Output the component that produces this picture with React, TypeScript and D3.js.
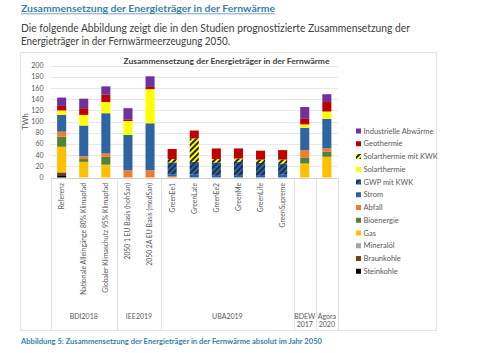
import { useEffect, useRef } from 'react';
import * as d3 from 'd3';

// Studies (inner category labels), BDEW and Agora have no inner label
const categories = [
  'Referenz',
  'Nationale Alleingänge 80% Klimapfad',
  'Globaler Klimaschutz 95% Klimapfad',
  '2050 1 EU Basis (hohSan)',
  '2050 2A EU Basis (modSan)',
  'GreenEe1',
  'GreenLate',
  'GreenEe2',
  'GreenMe',
  'GreenLife',
  'GreenSupreme',
  '',
  '',
];

const groupLabels = [['BDI2018'], ['IEE2019'], ['UBA2019'], ['BDEW', '2017'], ['Agora', '2020']];
const groupSizes = [3, 2, 6, 1, 1];

const yTicks = [0, 20, 40, 60, 80, 100, 120, 140, 160, 180, 200];

// TWh per category, stacked bottom -> top
const steinkohle = [4, 0, 0, 0, 0, 0, 0, 0, 0, 0, 0, 0, 0];
const braunkohle = [5, 0, 0, 0, 0, 0, 0, 0, 0, 0, 0, 0, 0];
const mineraloel = [1, 0, 0, 0, 0, 0, 0, 0, 0, 0, 0, 0, 0];
const gas = [45, 28, 23, 0, 0, 0, 0, 0, 0, 0, 0, 25, 37];
const bioenergie = [18, 5, 14, 0, 0, 0, 0, 0, 0, 0, 0, 10, 9];
const abfall = [9, 5, 6, 13, 13, 2, 0, 0, 0, 0, 0, 14, 6];
const strom = [30, 55, 72, 63, 84, 3, 5, 3, 3, 3, 5, 40, 53];
const gwpKwk = [0, 0, 0, 0, 0, 22, 23, 24, 25, 23, 20, 0, 0];
const solarthermie = [8, 19, 20, 25, 61, 0, 0, 0, 0, 0, 0, 6, 13];
const solarthermieKwk = [0, 0, 0, 0, 0, 6, 42, 6, 6, 6, 7, 0, 0];
const geothermie = [8, 12, 13, 3, 4, 18, 14, 19, 18, 16, 17, 11, 17];
const abwaerme = [15, 17, 15, 20, 19, 0, 0, 0, 0, 0, 0, 20, 14];

type Series = { name: string; values: number[]; fill: string };

const series: Series[] = [
  { name: 'Steinkohle', values: steinkohle, fill: '#000000' },
  { name: 'Braunkohle', values: braunkohle, fill: '#7b3f12' },
  { name: 'Mineralöl', values: mineraloel, fill: '#a5a5a5' },
  { name: 'Gas', values: gas, fill: '#ffc000' },
  { name: 'Bioenergie', values: bioenergie, fill: '#548235' },
  { name: 'Abfall', values: abfall, fill: '#ed7d31' },
  { name: 'Strom', values: strom, fill: '#2e64a2' },
  { name: 'GWP mit KWK', values: gwpKwk, fill: 'url(#hatchBlue)' },
  { name: 'Solarthermie', values: solarthermie, fill: '#ffff00' },
  { name: 'Solarthermie mit KWK', values: solarthermieKwk, fill: 'url(#hatchYellow)' },
  { name: 'Geothermie', values: geothermie, fill: '#c00000' },
  { name: 'Industrielle Abwärme', values: abwaerme, fill: '#7030a0' },
];

const FONT = 'Lato, "Open Sans", sans-serif';

const App = () => {
  const svgRef = useRef<SVGSVGElement>(null);

  useEffect(() => {
    if (!svgRef.current) return;
    const width = 500;
    const height = 353;

    const root = d3.select(svgRef.current);
    root.selectAll('*').remove();
    root.attr('width', width).attr('height', height);

    // hatch patterns
    const defs = root.append('defs');
    const addHatch = (id: string, bg: string, fg: string) => {
      const p = defs.append('pattern')
        .attr('id', id)
        .attr('patternUnits', 'userSpaceOnUse')
        .attr('width', 4)
        .attr('height', 4)
        .attr('patternTransform', 'rotate(45)');
      p.append('rect').attr('width', 4).attr('height', 4).attr('fill', bg);
      p.append('rect').attr('width', 2).attr('height', 4).attr('fill', fg);
    };
    addHatch('hatchBlue', '#2e64a2', '#1a2f52');
    addHatch('hatchYellow', '#ffff00', '#222222');

    root.append('rect').attr('width', width).attr('height', height).attr('fill', '#fff');

    // page text above the chart
    root.append('text')
      .attr('x', 21).attr('y', 12)
      .attr('textLength', 254).attr('lengthAdjust', 'spacingAndGlyphs')
      .style('font-family', FONT).style('font-size', '9.5px').style('font-weight', 'bold')
      .style('fill', '#3a7fa8')
      .text('Zusammensetzung der Energieträger in der Fernwärme');
    root.append('line')
      .attr('x1', 21).attr('x2', 275).attr('y1', 13.8).attr('y2', 13.8)
      .attr('stroke', '#3a7fa8').attr('stroke-width', 0.7);

    root.append('text')
      .attr('x', 21).attr('y', 31.5)
      .attr('textLength', 389).attr('lengthAdjust', 'spacingAndGlyphs')
      .style('font-family', FONT).style('font-size', '10.5px').style('fill', '#404040')
      .text('Die folgende Abbildung zeigt die in den Studien prognostizierte Zusammensetzung der');
    root.append('text')
      .attr('x', 21).attr('y', 45)
      .attr('textLength', 209).attr('lengthAdjust', 'spacingAndGlyphs')
      .style('font-family', FONT).style('font-size', '10.5px').style('fill', '#404040')
      .text('Energieträger in der Fernwärmeerzeugung 2050.');

    // chart frame
    root.append('rect')
      .attr('x', 20.5).attr('y', 52.5).attr('width', 416).attr('height', 278)
      .attr('fill', 'none').attr('stroke', '#e3e3e3');

    root.append('text')
      .attr('x', 226.5).attr('y', 63.5).attr('text-anchor', 'middle')
      .attr('textLength', 206).attr('lengthAdjust', 'spacingAndGlyphs')
      .style('font-family', FONT).style('font-size', '7.5px').style('font-weight', 'bold')
      .style('fill', '#404040')
      .text('Zusammensetzung der Energieträger in der Fernwärme');

    const x0 = 50.6;
    const x1 = 337.9;
    const x = d3.scaleBand<number>()
      .domain(categories.map((_, i) => i))
      .range([x0, x1])
      .paddingInner(0.59)
      .paddingOuter(0.295);
    const y = d3.scaleLinear().domain([0, 200]).range([177.5, 65.7]);

    // gridlines
    root.append('g')
      .selectAll('line')
      .data(yTicks)
      .enter()
      .append('line')
      .attr('x1', x0).attr('x2', x1)
      .attr('y1', d => Math.round(y(d)) + 0.5).attr('y2', d => Math.round(y(d)) + 0.5)
      .attr('stroke', d => (d === 0 ? '#c8c8c8' : '#e2e2e2'))
      .attr('stroke-width', 0.8);

    root.append('g')
      .selectAll('text')
      .data(yTicks)
      .enter()
      .append('text')
      .attr('x', 43.5).attr('y', d => y(d)).attr('dy', '0.35em')
      .attr('text-anchor', 'end')
      .style('font-family', FONT).style('font-size', '7px').style('fill', '#595959')
      .text(d => d);

    root.append('text')
      .attr('transform', 'translate(27.5,121.5) rotate(-90)')
      .attr('text-anchor', 'middle')
      .style('font-family', FONT).style('font-size', '7.5px').style('fill', '#595959')
      .text('TWh');

    // stacked bars
    const table = categories.map((_, i) => {
      const row: Record<string, number> = { idx: i };
      series.forEach(s => { row[s.name] = s.values[i]; });
      return row;
    });
    const stack = d3.stack<Record<string, number>>().keys(series.map(s => s.name));
    const layers = stack(table);

    root.append('g')
      .selectAll('g')
      .data(layers)
      .enter()
      .append('g')
      .attr('fill', (_, i) => series[i].fill)
      .selectAll('rect')
      .data(d => d.filter(p => p[1] - p[0] > 0))
      .enter()
      .append('rect')
      .attr('x', d => x(d.data.idx) as number)
      .attr('width', x.bandwidth())
      .attr('y', d => y(d[1]))
      .attr('height', d => y(d[0]) - y(d[1]));

    // inner category labels
    root.append('g')
      .selectAll('text')
      .data(categories)
      .enter()
      .append('text')
      .attr('transform', (_, i) => `translate(${(x(i) as number) + x.bandwidth() / 2},183) rotate(-90)`)
      .attr('dy', '0.35em')
      .attr('text-anchor', 'end')
      .style('font-family', FONT).style('font-size', '6.8px').style('fill', '#595959')
      .text(d => d);

    // group separators and labels
    const step = x.step();
    const bounds = [0];
    groupSizes.forEach(n => bounds.push(bounds[bounds.length - 1] + n));
    root.append('g')
      .selectAll('line')
      .data(bounds)
      .enter()
      .append('line')
      .attr('x1', b => Math.round(x0 + b * step) + 0.5)
      .attr('x2', b => Math.round(x0 + b * step) + 0.5)
      .attr('y1', 177.5).attr('y2', 330)
      .attr('stroke', '#d9d9d9').attr('stroke-width', 0.8);

    const groupG = root.append('g');
    groupLabels.forEach((lines, gi) => {
      const cx = x0 + ((bounds[gi] + bounds[gi + 1]) / 2) * step;
      lines.forEach((line, li) => {
        groupG.append('text')
          .attr('x', cx).attr('y', 318.5 + li * 8.8)
          .attr('text-anchor', 'middle')
          .style('font-family', FONT).style('font-size', '7px').style('fill', '#595959')
          .text(line);
      });
    });

    // legend
    const legendItems = [...series].reverse();
    const legend = root.append('g')
      .selectAll('g')
      .data(legendItems)
      .enter()
      .append('g')
      .attr('transform', (_, i) => `translate(356,${131 + i * 12.75})`);
    legend.append('rect')
      .attr('x', 0).attr('y', -2.5).attr('width', 5).attr('height', 5)
      .attr('fill', d => d.fill);
    legend.append('text')
      .attr('x', 7.5).attr('dy', '0.35em')
      .style('font-family', FONT).style('font-size', '7.5px').style('fill', '#595959')
      .text(d => d.name);

    // caption
    root.append('text')
      .attr('x', 21).attr('y', 344)
      .attr('textLength', 301).attr('lengthAdjust', 'spacingAndGlyphs')
      .style('font-family', FONT).style('font-size', '7.2px').style('font-weight', 'bold')
      .style('fill', '#3a7fa8')
      .text('Abbildung 5: Zusammensetzung der Energieträger in der Fernwärme absolut im Jahr 2050');
  }, []);

  return (
    <div style={{ position: 'absolute', left: 0, top: 0 }}>
      <svg ref={svgRef} style={{ display: 'block' }}></svg>
    </div>
  );
};

export default App;
